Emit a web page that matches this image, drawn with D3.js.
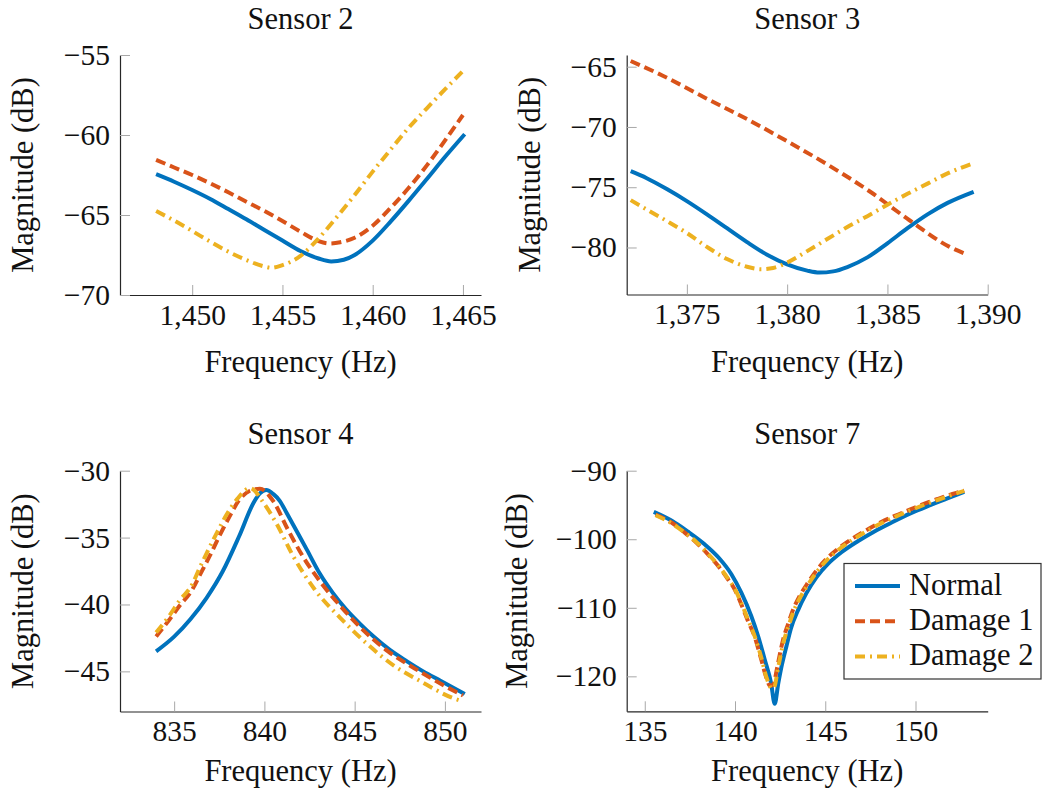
<!DOCTYPE html>
<html>
<head>
<meta charset="utf-8">
<script src="https://cdn.jsdelivr.net/npm/d3@7"></script>
<style>
  html, body { margin: 0; padding: 0; background: #fff; }
  svg { display: block; }
  text { font-family: "Liberation Serif", "Times New Roman", serif; fill: #111; }
</style>
</head>
<body>
<svg id="chart" width="1050" height="793"></svg>
<script>
// ---- data: frequency (Hz) / magnitude (dB) pairs per sensor and condition ----
const seriesNames = ["Normal", "Damage 1", "Damage 2"];

const sensor2Normal = [[1448,-62.45],[1449,-62.92],[1450,-63.44],[1451,-64.0],[1452,-64.63],[1453,-65.27],[1454,-65.94],[1455,-66.6],[1456,-67.25],[1457,-67.72],[1457.7,-67.9],[1458.4,-67.8],[1459,-67.5],[1460,-66.6],[1461,-65.4],[1462,-64.1],[1463,-62.75],[1464,-61.38],[1465.1,-59.95]];
const sensor2Damage1 = [[1448,-61.55],[1449,-62.03],[1450,-62.5],[1451,-63.02],[1452,-63.58],[1453,-64.17],[1454,-64.75],[1455,-65.38],[1456,-66.04],[1457,-66.63],[1457.6,-66.78],[1458.2,-66.7],[1459,-66.42],[1460,-65.67],[1461,-64.55],[1462,-63.3],[1463,-61.9],[1464,-60.35],[1465,-58.75]];
const sensor2Damage2 = [[1448,-64.75],[1449,-65.35],[1450,-66.0],[1451,-66.67],[1452,-67.29],[1453,-67.81],[1454,-68.22],[1454.4,-68.3],[1455,-68.13],[1456,-67.56],[1457,-66.46],[1458,-65.15],[1459,-63.75],[1460,-62.29],[1461,-60.9],[1462,-59.54],[1463,-58.33],[1464,-57.15],[1465,-56.0]];

const sensor3Normal = [[1372.2,-73.67],[1373,-74.25],[1374,-75.15],[1375,-76.15],[1376,-77.25],[1377,-78.4],[1378,-79.55],[1379,-80.6],[1380,-81.4],[1381,-81.92],[1381.6,-82.08],[1382.3,-81.98],[1383,-81.62],[1384,-80.82],[1385,-79.65],[1386,-78.4],[1387,-77.25],[1388,-76.3],[1389.3,-75.38]];
const sensor3Damage1 = [[1372.2,-64.53],[1373.8,-65.75],[1375.9,-67.57],[1378.0,-69.35],[1380.1,-71.28],[1382.2,-73.31],[1384.2,-75.44],[1386.1,-77.74],[1388.1,-79.95],[1389.0,-80.6]];
const sensor3Damage2 = [[1372.2,-76.07],[1373,-76.85],[1374,-77.8],[1375,-78.8],[1376,-79.95],[1377,-80.95],[1378,-81.6],[1378.7,-81.8],[1379.3,-81.7],[1380,-81.25],[1381,-80.3],[1382,-79.3],[1383,-78.3],[1384,-77.4],[1385,-76.45],[1386,-75.55],[1387,-74.7],[1388,-73.85],[1389.3,-73.0]];

const sensor4Normal = [[834,-43.5],[835,-42.4],[835.9,-41.1],[836.8,-39.5],[837.7,-37.5],[838.6,-34.9],[839.4,-32.4],[839.75,-31.7],[840.1,-31.45],[840.5,-31.75],[840.85,-32.25],[841.25,-33.2],[841.8,-34.55],[842.35,-35.9],[843.05,-37.65],[843.8,-39.15],[844.55,-40.4],[845.3,-41.45],[846.05,-42.4],[846.95,-43.4],[847.9,-44.25],[848.8,-45.0],[849.75,-45.7],[851.1,-46.7]];
const sensor4Damage1 = [[834,-42.4],[834.7,-41.2],[835.3,-40.1],[836,-38.9],[836.5,-37.6],[837,-36.3],[837.5,-34.9],[838,-33.6],[838.6,-32.2],[839.2,-31.5],[839.75,-31.35],[840.5,-32.3],[841.3,-34.4],[842.15,-36.45],[843.15,-38.4],[844.3,-40.25],[845.5,-41.95],[846.85,-43.5],[848.35,-44.8],[849.8,-45.95],[851,-46.8]];
const sensor4Damage2 = [[834,-42.1],[834.7,-40.9],[835.3,-39.7],[836,-38.5],[836.4,-37.3],[836.9,-35.9],[837.4,-34.55],[837.9,-33.3],[838.5,-32.1],[839.2,-31.3],[840.0,-32.5],[840.65,-33.9],[841.6,-36.4],[842.8,-38.9],[844.2,-41.0],[845.65,-42.9],[847.15,-44.55],[848.6,-45.7],[850.45,-47.0],[851,-47.25]];

const sensor7Normal = [[135.5,-96.0],[136.5,-97.3],[137.4,-98.9],[138.3,-100.7],[139.1,-102.7],[139.8,-105.1],[140.35,-107.8],[140.9,-111.2],[141.3,-114.3],[141.65,-117.6],[142.0,-121.0],[142.2,-124.0],[142.4,-121.0],[142.6,-118.3],[142.85,-115.6],[143.1,-113.0],[143.5,-110.3],[143.95,-107.9],[144.5,-105.6],[145.15,-103.6],[145.9,-101.9],[146.8,-100.3],[147.7,-98.9],[148.65,-97.6],[149.75,-96.2],[150.85,-95.0],[151.8,-94.0],[152.7,-93.1]];
const sensor7Damage1 = [[135.6,-96.4],[136.5,-97.6],[137.2,-99.0],[137.9,-100.6],[138.5,-102.2],[139.1,-104.0],[139.6,-105.8],[140.0,-107.4],[140.35,-109.5],[140.7,-111.8],[141.1,-114.3],[141.45,-117.5],[141.75,-120.3],[141.95,-121.4],[142.15,-121.1],[142.3,-119.2],[142.65,-114.8],[142.95,-112.3],[143.2,-110.4],[143.6,-108.2],[144.05,-106.3],[144.5,-104.6],[145.05,-102.9],[145.7,-101.4],[146.45,-100.0],[147.2,-98.8],[148.1,-97.5],[148.85,-96.6],[149.75,-95.6],[150.5,-94.8],[151.25,-94.1],[152.05,-93.4],[152.7,-92.9]];
const sensor7Damage2 = [[135.6,-96.5],[136.5,-97.7],[137.2,-99.0],[137.9,-100.5],[138.5,-102.1],[139.1,-103.9],[139.6,-105.7],[140.0,-107.3],[140.35,-109.3],[140.7,-111.6],[141.1,-114.2],[141.45,-117.2],[141.75,-120.2],[142.05,-121.8],[142.2,-121.4],[142.35,-119.3],[142.7,-114.9],[143.0,-112.4],[143.25,-110.5],[143.65,-108.3],[144.1,-106.4],[144.55,-104.7],[145.1,-103.0],[145.75,-101.5],[146.5,-100.1],[147.25,-98.9],[148.15,-97.6],[148.9,-96.7],[149.8,-95.7],[150.55,-94.9],[151.3,-94.2],[152.05,-93.5],[152.7,-92.95]];

// axis limits and tick values
const sensor2XLimits = [1446, 1466], sensor2YLimits = [-70, -55];
const sensor3XLimits = [1372, 1390], sensor3YLimits = [-83.9, -64.03];
const sensor4XLimits = [832, 852],   sensor4YLimits = [-48, -30];
const sensor7XLimits = [134, 154],   sensor7YLimits = [-125.1, -90];

const sensor2XTicks = [1450, 1455, 1460, 1465], sensor2YTicks = [-70, -65, -60, -55];
const sensor3XTicks = [1375, 1380, 1385, 1390], sensor3YTicks = [-80, -75, -70, -65];
const sensor4XTicks = [835, 840, 845, 850],     sensor4YTicks = [-45, -40, -35, -30];
const sensor7XTicks = [135, 140, 145, 150],     sensor7YTicks = [-120, -110, -100, -90];

// ---- styling ----
const colors = ["#0072BD", "#D95319", "#EDB120"];
const dashes = [null, "10,5", "10,5,2,5"];
const lineWidth = 4;
const tickFontSize = 29.5;
const labelFontSize = 30.5;

const panels = [
  { title: "Sensor 2", series: [sensor2Normal, sensor2Damage1, sensor2Damage2],
    xLim: sensor2XLimits, yLim: sensor2YLimits, xTicks: sensor2XTicks, yTicks: sensor2YTicks,
    x0: 120, x1: 481, y0: 55, y1: 295, xLabelY: 372, yLabelX: 33, titleY: 29 },
  { title: "Sensor 3", series: [sensor3Normal, sensor3Damage1, sensor3Damage2],
    xLim: sensor3XLimits, yLim: sensor3YLimits, xTicks: sensor3XTicks, yTicks: sensor3YTicks,
    x0: 626.7, x1: 987.7, y0: 55, y1: 294.5, xLabelY: 372, yLabelX: 540, titleY: 29 },
  { title: "Sensor 4", series: [sensor4Normal, sensor4Damage1, sensor4Damage2],
    xLim: sensor4XLimits, yLim: sensor4YLimits, xTicks: sensor4XTicks, yTicks: sensor4YTicks,
    x0: 120, x1: 481, y0: 470.7, y1: 711.5, xLabelY: 781, yLabelX: 33, titleY: 444 },
  { title: "Sensor 7", series: [sensor7Normal, sensor7Damage1, sensor7Damage2],
    xLim: sensor7XLimits, yLim: sensor7YLimits, xTicks: sensor7XTicks, yTicks: sensor7YTicks,
    x0: 626.7, x1: 987.7, y0: 470.7, y1: 711.3, xLabelY: 781, yLabelX: 527, titleY: 444, legend: true }
];

const svg = d3.select("#chart");

panels.forEach((p, i) => {
  const x = d3.scaleLinear().domain(p.xLim).range([p.x0, p.x1]);
  const y = d3.scaleLinear().domain(p.yLim).range([p.y1, p.y0]);
  const g = svg.append("g").attr("class", "panel");

  // clip region for the curves
  const clipId = "clip" + i;
  svg.append("clipPath").attr("id", clipId)
    .append("rect").attr("x", p.x0).attr("y", p.y0 - 6)
    .attr("width", p.x1 - p.x0 + 6).attr("height", p.y1 - p.y0 + 6);

  // x axis
  const xAxis = d3.axisBottom(x).tickValues(p.xTicks).tickFormat(d3.format(","))
    .tickSizeInner(-10).tickSizeOuter(0).tickPadding(9);
  const gx = g.append("g").attr("transform", `translate(0,${p.y1})`).call(xAxis);
  // y axis
  const yAxis = d3.axisLeft(y).tickValues(p.yTicks).tickFormat(d3.format("d"))
    .tickSizeInner(-10).tickSizeOuter(0).tickPadding(10);
  const gy = g.append("g").attr("transform", `translate(${p.x0},0)`).call(yAxis);

  [gx, gy].forEach(a => {
    a.select(".domain").attr("stroke", "#262626").attr("stroke-width", 1.2);
    a.selectAll(".tick line").attr("stroke", "#a8a8a8").attr("stroke-width", 1);
    a.selectAll(".tick text").attr("fill", "#111")
      .style("font-family", '"Liberation Serif", serif').style("font-size", tickFontSize + "px");
  });

  // curves
  const line = d3.line().x(d => x(d[0])).y(d => y(d[1])).curve(d3.curveMonotoneX);
  const curves = g.append("g").attr("clip-path", `url(#${clipId})`);
  p.series.forEach((s, k) => {
    curves.append("path").datum(s)
      .attr("d", line)
      .attr("fill", "none")
      .attr("stroke", colors[k])
      .attr("stroke-width", lineWidth)
      .attr("stroke-linejoin", "round")
      .attr("stroke-dasharray", dashes[k]);
  });

  // title and axis labels
  const cx = (p.x0 + p.x1) / 2, cy = (p.y0 + p.y1) / 2;
  g.append("text").attr("x", cx).attr("y", p.titleY).attr("text-anchor", "middle")
    .style("font-size", labelFontSize + "px").text(p.title);
  g.append("text").attr("x", cx).attr("y", p.xLabelY).attr("text-anchor", "middle")
    .style("font-size", labelFontSize + "px").text("Frequency (Hz)");
  g.append("text").attr("transform", `translate(${p.yLabelX},${cy}) rotate(-90)`)
    .attr("text-anchor", "middle").style("font-size", labelFontSize + "px").text("Magnitude (dB)");

  // legend
  if (p.legend) {
    const lg = g.append("g");
    lg.append("rect").attr("x", 844).attr("y", 563.5).attr("width", 197).attr("height", 115.5)
      .attr("fill", "#fff").attr("stroke", "#333").attr("stroke-width", 1.2);
    seriesNames.forEach((name, k) => {
      const ly = 586 + k * 35.3;
      lg.append("line").attr("x1", 855).attr("x2", 900).attr("y1", ly).attr("y2", ly)
        .attr("stroke", colors[k]).attr("stroke-width", lineWidth)
        .attr("stroke-dasharray", dashes[k]);
      lg.append("text").attr("x", 909).attr("y", ly + 8.5)
        .style("font-size", labelFontSize + "px").text(name);
    });
  }
});
</script>
</body>
</html>
